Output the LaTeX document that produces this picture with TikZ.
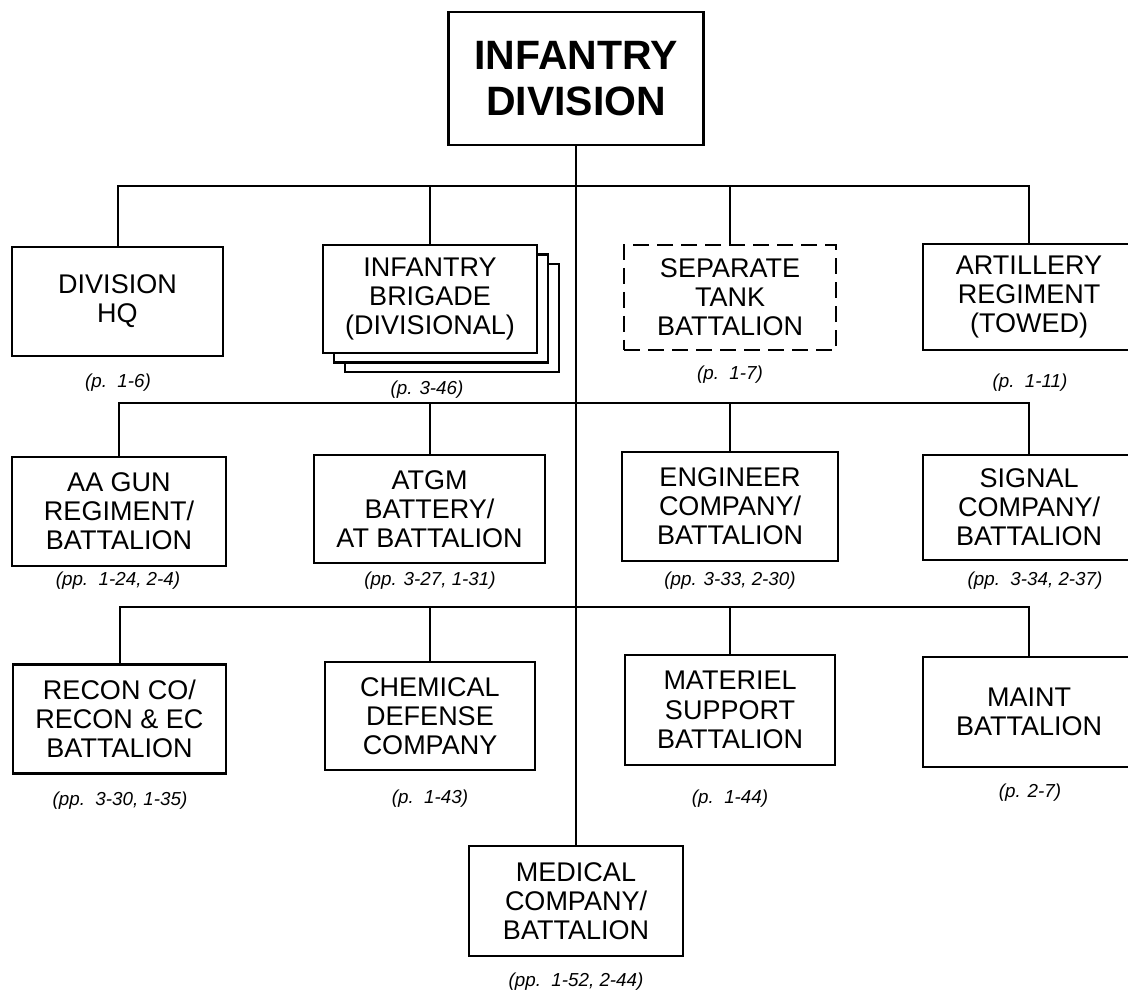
\documentclass[tikz,border=0pt]{standalone}
\usepackage{fontspec}
\setmainfont{Liberation Sans}
\begin{document}
\begin{tikzpicture}[x=0.5pt,y=-0.5pt,
  sz/.style 2 args={minimum width=#1*0.5pt, minimum height=#2*0.5pt},
  unit/.style={draw, line width=1.3pt, fill=white, align=center, inner sep=0pt,
    font=\fontsize{13.5}{14.6}\selectfont},
  dashunit/.style={unit, line width=0.7pt, dash pattern=on 8pt off 4pt},
  pageref/.style={font=\itshape\fontsize{9.4}{11}\selectfont, inner sep=0pt},
  link/.style={line width=1pt}]
\clip (0,0) rectangle (1128,994);
\useasboundingbox (0,0) rectangle (1128,994);

% bus coordinates
\coordinate (b1) at (576,186);
\coordinate (b2) at (576,403);
\coordinate (b3) at (576,607);

% top
\node[unit, sz={255}{133}, font=\bfseries\fontsize{20.5}{22.8}\selectfont] (div) at (576,78.5) {INFANTRY\\DIVISION};

% row 1
\node[unit, sz={211}{109}] (hq) at (117.5,301.5) {DIVISION\\HQ};
\node[unit, sz={214}{108}] (brig3) at (452,318) {};
\node[unit, sz={214}{108}] (brig2) at (441,308.5) {};
\node[unit, sz={214}{108}] (brig) at (430,299) {INFANTRY\\BRIGADE\\(DIVISIONAL)};
\node[dashunit, sz={212}{105}] (tank) at (730,297.5) {SEPARATE\\TANK\\BATTALION};
\node[unit, sz={212}{106}] (art) at (1029,297) {ARTILLERY\\REGIMENT\\(TOWED)};

\node[pageref] (chq) at (118,383) {(p.\ \ 1-6)};
\node[pageref] (cbrig) at (427,390) {(p. 3-46)};
\node[pageref] (ctank) at (730,375) {(p.\ \ 1-7)};
\node[pageref] (cart) at (1030,383) {(p.\ \ 1-11)};

% row 2
\node[unit, sz={214}{109}] (aa) at (119,511.5) {AA GUN\\REGIMENT/\\BATTALION};
\node[unit, sz={231}{108}] (atgm) at (429.5,509) {ATGM\\BATTERY/\\AT BATTALION};
\node[unit, sz={216}{109}] (eng) at (730,506.5) {ENGINEER\\COMPANY/\\BATTALION};
\node[unit, sz={212}{105}] (sig) at (1029,507.5) {SIGNAL\\COMPANY/\\BATTALION};

\node[pageref] (caa) at (118,581) {(pp.\ \ 1-24, 2-4)};
\node[pageref] (catgm) at (430,581) {(pp. 3-27, 1-31)};
\node[pageref] (ceng) at (730,581) {(pp. 3-33, 2-30)};
\node[pageref] (csig) at (1035,581) {(pp.\ \ 3-34, 2-37)};

% row 3
\node[unit, sz={213}{109}] (recon) at (119.5,719) {RECON CO/\\RECON \& EC\\BATTALION};
\node[unit, sz={210}{108}] (chem) at (430,716) {CHEMICAL\\DEFENSE\\COMPANY};
\node[unit, sz={210}{110}] (mat) at (730,710) {MATERIEL\\SUPPORT\\BATTALION};
\node[unit, sz={212}{110}] (maint) at (1029,712) {MAINT\\BATTALION};

\node[pageref] (crecon) at (120,801) {(pp.\ \ 3-30, 1-35)};
\node[pageref] (cchem) at (430,799) {(p.\ \ 1-43)};
\node[pageref] (cmat) at (730,799) {(p.\ \ 1-44)};
\node[pageref] (cmaint) at (1030,793) {(p. 2-7)};

% bottom
\node[unit, sz={214}{110}] (med) at (576,901) {MEDICAL\\COMPANY/\\BATTALION};
\node[pageref] (cmed) at (576,982) {(pp.\ \ 1-52, 2-44)};

% connectors
\draw[link] (div.south) -- (med.north);

\draw[link] (hq.north) -- (hq.north |- b1) -- (art.north |- b1) -- (art.north);
\draw[link] (brig.north) -- (brig.north |- b1);
\draw[link] (tank.north) -- (tank.north |- b1);

\draw[link] (aa.north) -- (aa.north |- b2) -- (sig.north |- b2) -- (sig.north);
\draw[link] (atgm.north) -- (atgm.north |- b2);
\draw[link] (eng.north) -- (eng.north |- b2);

\draw[link] (recon.north) -- (recon.north |- b3) -- (maint.north |- b3) -- (maint.north);
\draw[link] (chem.north) -- (chem.north |- b3);
\draw[link] (mat.north) -- (mat.north |- b3);
\end{tikzpicture}
\end{document}
